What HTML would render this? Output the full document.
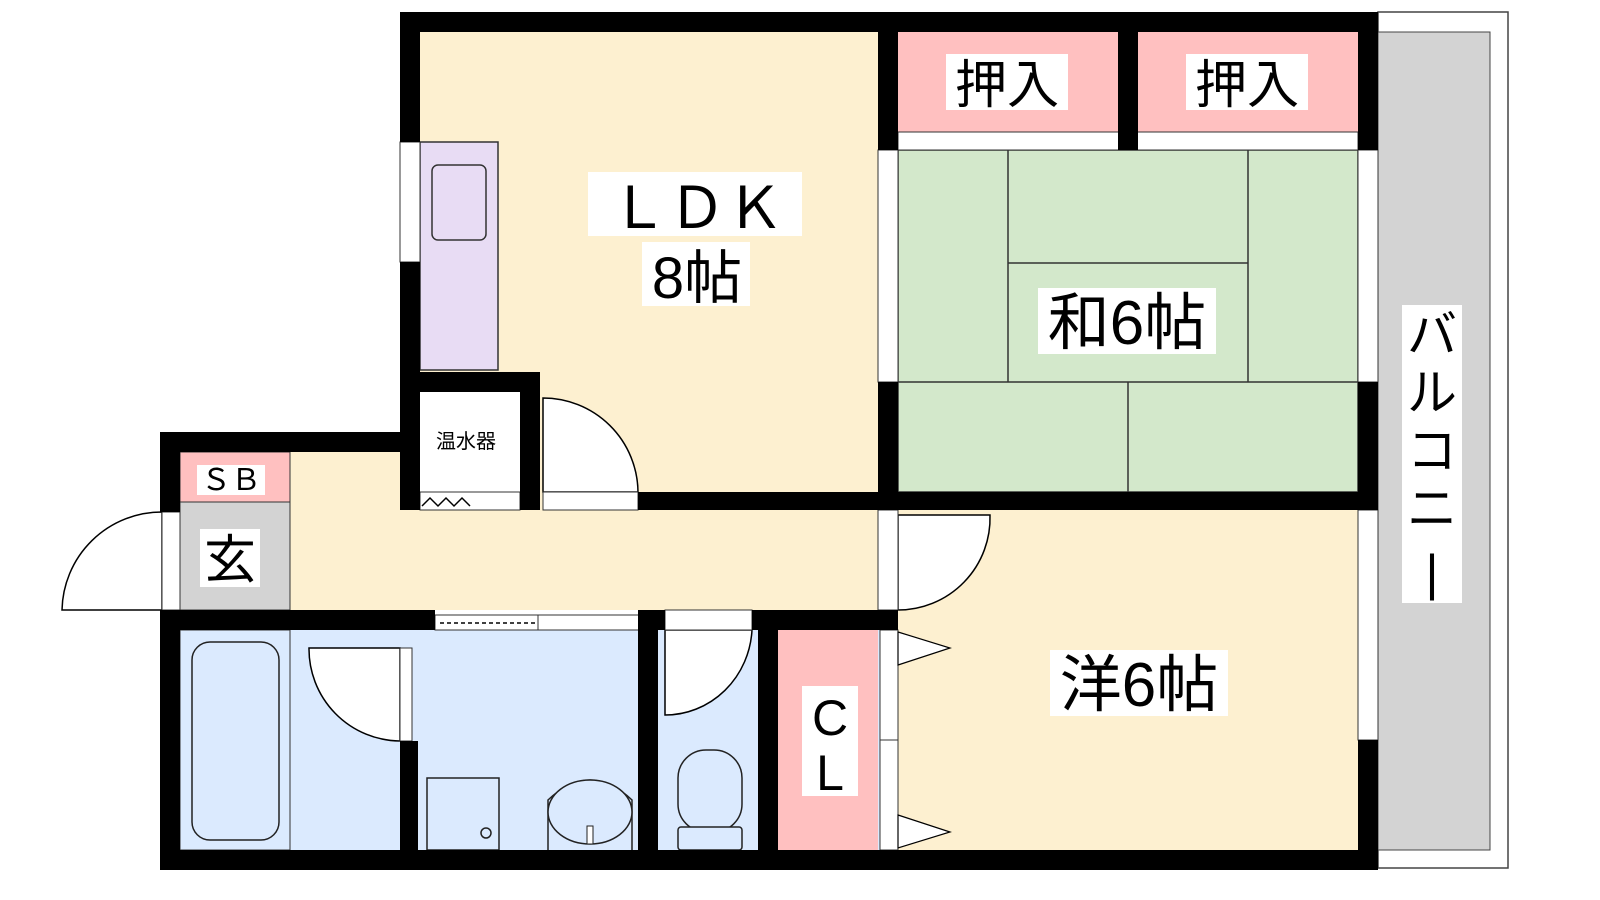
<!DOCTYPE html>
<html><head><meta charset="utf-8"><style>
html,body{margin:0;padding:0;background:#fff;width:1600px;height:900px;overflow:hidden}
text{font-family:"Liberation Sans","Noto Sans CJK JP",sans-serif}
</style></head><body>
<svg width="1600" height="900" viewBox="0 0 1600 900" xmlns="http://www.w3.org/2000/svg">
<!-- balcony -->
<rect x="1378" y="12" width="130" height="856" fill="#fff" stroke="#444" stroke-width="1.5"/>
<rect x="1378" y="32" width="112" height="818" fill="#d3d3d3" stroke="#444" stroke-width="1"/>
<!-- rooms fills -->
<rect x="420" y="32" width="458" height="478" fill="#fdf0d0"/>
<rect x="290" y="452" width="600" height="158" fill="#fdf0d0"/>
<rect x="898" y="510" width="460" height="340" fill="#fdf0d0"/>
<rect x="898" y="150" width="460" height="342" fill="#d3e8cb" stroke="#333" stroke-width="1.5"/>
<line x1="1008" y1="150" x2="1008" y2="382" stroke="#333" stroke-width="1.5"/>
<line x1="1248" y1="150" x2="1248" y2="382" stroke="#333" stroke-width="1.5"/>
<line x1="1008" y1="263" x2="1248" y2="263" stroke="#333" stroke-width="1.5"/>
<line x1="898" y1="382" x2="1358" y2="382" stroke="#333" stroke-width="1.5"/>
<line x1="1128" y1="382" x2="1128" y2="492" stroke="#333" stroke-width="1.5"/>
<rect x="898" y="32" width="220" height="100" fill="#ffc0c0"/>
<rect x="1138" y="32" width="220" height="100" fill="#ffc0c0"/>
<rect x="898" y="132" width="460" height="18" fill="#fff" stroke="#333" stroke-width="1"/>
<rect x="420" y="142" width="78" height="228" fill="#e8dcf4" stroke="#333" stroke-width="1.5"/>
<rect x="432" y="165" width="54" height="75" rx="6" fill="#e8dcf4" stroke="#333" stroke-width="1.5"/>
<rect x="420" y="392" width="100" height="118" fill="#fff"/>
<rect x="420" y="492" width="100" height="18" fill="#fff" stroke="#333" stroke-width="1"/>
<polyline points="422,506 430,498 438,506 446,498 454,506 462,498 470,506" fill="none" stroke="#000" stroke-width="1.5"/>
<rect x="180" y="452" width="110" height="50" fill="#ffc0c0" stroke="#333" stroke-width="1"/>
<rect x="180" y="502" width="110" height="108" fill="#d3d3d3" stroke="#333" stroke-width="1"/>
<rect x="180" y="630" width="700" height="220" fill="#dbeafe"/>
<rect x="180" y="630" width="110" height="220" fill="#dbeafe" stroke="#333" stroke-width="1"/>
<rect x="192" y="642" width="87" height="198" rx="18" fill="#dbeafe" stroke="#222" stroke-width="1.5"/>
<rect x="778" y="630" width="100" height="220" fill="#ffc0c0"/>
<!-- doors -->
<path d="M543,398 A95,95 0 0 1 638,492 L543,492 Z" fill="#fff" stroke="#000" stroke-width="1.5"/>
<rect x="543" y="492" width="95" height="18" fill="#fff" stroke="#333" stroke-width="1"/>
<path d="M898,515 L990,515 A92,92 0 0 1 898,610 Z" fill="#fff" stroke="#000" stroke-width="1.5"/>
<rect x="878" y="510" width="20" height="100" fill="#fff" stroke="#333" stroke-width="1"/>
<path d="M162,512 A100,100 0 0 0 62,610 L162,610 Z" fill="#fff" stroke="#000" stroke-width="1.5"/>
<rect x="162" y="512" width="18" height="98" fill="#fff" stroke="#333" stroke-width="1"/>
<path d="M309,648 L400,648 L400,741 A92,92 0 0 1 309,648 Z" fill="#fff" stroke="#000" stroke-width="1.5"/>
<rect x="400" y="648" width="12" height="93" fill="#fff" stroke="#333" stroke-width="1"/>
<path d="M665,630 L752,630 A87,90 0 0 1 665,715 Z" fill="#fff" stroke="#000" stroke-width="1.5"/>
<rect x="665" y="610" width="87" height="20" fill="#fff" stroke="#333" stroke-width="1"/>
<rect x="435" y="615" width="205" height="15" fill="#fff" stroke="#333" stroke-width="1"/>
<line x1="440" y1="623" x2="535" y2="623" stroke="#000" stroke-width="1.5" stroke-dasharray="4,3"/>
<line x1="538" y1="615" x2="538" y2="630" stroke="#333"/>
<!-- closet doors -->
<rect x="880" y="630" width="18" height="220" fill="#fff" stroke="#333" stroke-width="1"/>
<line x1="880" y1="740" x2="898" y2="740" stroke="#333"/>
<polygon points="898,632 950,648 898,665" fill="#fff" stroke="#000" stroke-width="1.2"/>
<polygon points="898,815 950,832 898,848" fill="#fff" stroke="#000" stroke-width="1.2"/>
<!-- wash fixtures -->
<rect x="427" y="778" width="72" height="72" fill="#dbeafe" stroke="#222" stroke-width="1.5"/>
<circle cx="486" cy="833" r="5" fill="none" stroke="#222" stroke-width="1.5"/>
<path d="M548,850 L548,800 Q590,760 632,800 L632,850" fill="#dbeafe" stroke="#222" stroke-width="1.5"/>
<ellipse cx="590" cy="812" rx="42" ry="32" fill="#dbeafe" stroke="#222" stroke-width="1.5"/>
<rect x="587" y="826" width="6" height="18" fill="#fff" stroke="#222"/>
<rect x="678" y="750" width="64" height="82" rx="28" fill="#dbeafe" stroke="#222" stroke-width="1.5"/>
<rect x="678" y="827" width="64" height="23" rx="3" fill="#dbeafe" stroke="#222" stroke-width="1.5"/>
<!-- windows -->
<rect x="400" y="142" width="20" height="120" fill="#fff" stroke="#333" stroke-width="1"/>
<rect x="878" y="150" width="20" height="232" fill="#fff" stroke="#333" stroke-width="1"/>
<rect x="1358" y="150" width="20" height="232" fill="#fff" stroke="#333" stroke-width="1"/>
<rect x="1358" y="510" width="20" height="230" fill="#fff" stroke="#333" stroke-width="1"/>
<!-- walls -->
<g fill="#000">
<rect x="400" y="12" width="978" height="20"/>
<rect x="400" y="32" width="20" height="110"/>
<rect x="400" y="262" width="20" height="248"/>
<rect x="400" y="372" width="140" height="20"/>
<rect x="520" y="372" width="20" height="138"/>
<rect x="638" y="492" width="740" height="18"/>
<rect x="878" y="12" width="20" height="138"/>
<rect x="878" y="382" width="20" height="128"/>
<rect x="1118" y="12" width="20" height="138"/>
<rect x="1358" y="12" width="20" height="138"/>
<rect x="1358" y="382" width="20" height="128"/>
<rect x="1358" y="740" width="20" height="130"/>
<rect x="160" y="432" width="260" height="20"/>
<rect x="160" y="432" width="20" height="80"/>
<rect x="160" y="610" width="20" height="260"/>
<rect x="160" y="610" width="275" height="20"/>
<rect x="638" y="610" width="27" height="20"/>
<rect x="752" y="610" width="146" height="20"/>
<rect x="160" y="850" width="1218" height="20"/>
<rect x="400" y="741" width="18" height="109"/>
<rect x="638" y="610" width="20" height="240"/>
<rect x="758" y="610" width="20" height="240"/>
</g>
<!-- labels -->
<g font-size="58" text-anchor="middle">
<rect x="588" y="172" width="214" height="64" fill="#fff"/>
<text x="697" y="228">ＬＤＫ</text>
<rect x="642" y="242" width="108" height="64" fill="#fff"/>
<text x="697" y="298">8帖</text>
<rect x="1038" y="288" width="178" height="66" fill="#fff"/>
<text x="1127" y="344" font-size="62">和6帖</text>
<rect x="1050" y="650" width="178" height="66" fill="#fff"/>
<text x="1139" y="706" font-size="62">洋6帖</text>
<rect x="946" y="54" width="122" height="56" fill="#fff"/>
<text x="1007" y="103" font-size="52">押入</text>
<rect x="1186" y="54" width="122" height="56" fill="#fff"/>
<text x="1247" y="103" font-size="52">押入</text>
<rect x="200" y="529" width="60" height="58" fill="#fff"/>
<text x="230" y="578" font-size="52">玄</text>
<rect x="197" y="465" width="68" height="30" fill="#fff"/>
<text x="231" y="490" font-size="30">ＳＢ</text>
<rect x="802" y="686" width="56" height="110" fill="#fff"/>
<text x="830" y="735" font-size="50">C</text>
<text x="830" y="790" font-size="50">L</text>
<text x="466" y="448" font-size="20">温水器</text>
<rect x="1402" y="305" width="60" height="298" fill="#fff"/>
<text x="1432" y="352" font-size="50">バ</text>
<text x="1432" y="410" font-size="50">ル</text>
<text x="1432" y="468" font-size="50">コ</text>
<text x="1432" y="526" font-size="50">ニ</text>
<text x="1432" y="590" font-size="50">|</text>
</g>
</svg>
</body></html>
